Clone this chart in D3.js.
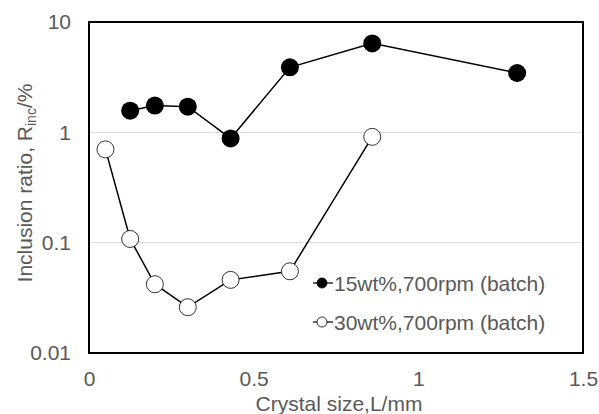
<!DOCTYPE html>
<html><head><meta charset="utf-8">
<script src="https://cdn.jsdelivr.net/npm/d3@7"></script>
<style>body{margin:0;background:#fff}svg{display:block}text{font-family:"Liberation Sans",Arial,sans-serif;fill:#595959}</style>
</head><body>
<svg id="c" width="599" height="414"></svg>
<script>
const s1x = [0.125, 0.2, 0.3, 0.43, 0.61, 0.86, 1.3];
const s1y = [1.57, 1.75, 1.71, 0.88, 3.88, 6.4, 3.45];
const s2x = [0.05, 0.125, 0.2, 0.3, 0.43, 0.61, 0.86];
const s2y = [0.70, 0.108, 0.042, 0.026, 0.046, 0.055, 0.91];
const s1name = "15wt%,700rpm (batch)";
const s2name = "30wt%,700rpm (batch)";
const xTicks = [0, 0.5, 1, 1.5];
const xTickLabels = ["0", "0.5", "1", "1.5"];
const yTicks = [0.01, 0.1, 1, 10];
const yTickLabels = ["0.01", "0.1", "1", "10"];

const FS = 21;
const svg = d3.select("#c");
const L = 89, R = 583, T = 22, B = 353;
const x = d3.scaleLinear().domain([0, 1.5]).range([L, R]);
const y = d3.scaleLog().domain([0.01, 10]).range([B, T]);

// gridlines
svg.append("g").selectAll("line").data(yTicks.slice(1, 3)).join("line")
  .attr("x1", L).attr("x2", R).attr("y1", d => y(d)).attr("y2", d => y(d))
  .attr("stroke", "#d9d9d9").attr("stroke-width", 1);

// y axis labels
const ya = svg.append("g").attr("transform", `translate(${L},0)`)
  .call(d3.axisLeft(y).tickValues(yTicks).tickFormat((d, i) => yTickLabels[i]).tickSize(0).tickPadding(18));
ya.select(".domain").remove();
ya.selectAll("text").attr("font-size", FS).style("font-family", '"Liberation Sans",Arial,sans-serif').attr("fill", "#595959");

const xa = svg.append("g").attr("transform", `translate(0,${B})`)
  .call(d3.axisBottom(x).tickValues(xTicks).tickFormat((d, i) => xTickLabels[i]).tickSize(0).tickPadding(18));
xa.select(".domain").remove();
xa.selectAll("text").attr("font-size", FS).style("font-family", '"Liberation Sans",Arial,sans-serif').attr("fill", "#595959");

// frame
svg.append("rect").attr("x", L).attr("y", T).attr("width", R - L).attr("height", B - T)
  .attr("fill", "none").attr("stroke", "#000").attr("stroke-width", 2);

const line = d3.line().x(d => x(d[0])).y(d => y(d[1]));
const d1 = s1x.map((v, i) => [v, s1y[i]]);
const d2 = s2x.map((v, i) => [v, s2y[i]]);

svg.append("path").attr("d", line(d2)).attr("fill", "none").attr("stroke", "#000").attr("stroke-width", 1.5);
svg.append("g").selectAll("circle").data(d2).join("circle")
  .attr("cx", d => x(d[0])).attr("cy", d => y(d[1])).attr("r", 8.5)
  .attr("fill", "#fff").attr("stroke", "#000").attr("stroke-width", 0.8);

svg.append("path").attr("d", line(d1)).attr("fill", "none").attr("stroke", "#000").attr("stroke-width", 1.5);
svg.append("g").selectAll("circle").data(d1).join("circle")
  .attr("cx", d => x(d[0])).attr("cy", d => y(d[1])).attr("r", 9)
  .attr("fill", "#000");

// legend
const leg = [{name: s1name, fill: "#000", y: 283}, {name: s2name, fill: "#fff", y: 322}];
const lg = svg.append("g");
leg.forEach(l => {
  lg.append("line").attr("x1", 313).attr("x2", 333).attr("y1", l.y).attr("y2", l.y).attr("stroke", "#000").attr("stroke-width", 1.2);
  lg.append("circle").attr("cx", 322).attr("cy", l.y).attr("r", 5).attr("fill", l.fill).attr("stroke", "#000").attr("stroke-width", 0.8);
  lg.append("text").attr("x", 334).attr("y", l.y + 7.5).attr("font-size", FS).text(l.name);
});

// axis titles
svg.append("text").attr("x", 339).attr("y", 411).attr("text-anchor", "middle").attr("font-size", FS).text("Crystal size,L/mm");
const yt = svg.append("text").attr("transform", "translate(32,183) rotate(-90)").attr("text-anchor", "middle").attr("font-size", FS);
yt.append("tspan").text("Inclusion ratio, R");
yt.append("tspan").attr("font-size", 14).attr("dy", 4).text("inc");
yt.append("tspan").attr("dy", -4).text("/%");
</script>
</body></html>
